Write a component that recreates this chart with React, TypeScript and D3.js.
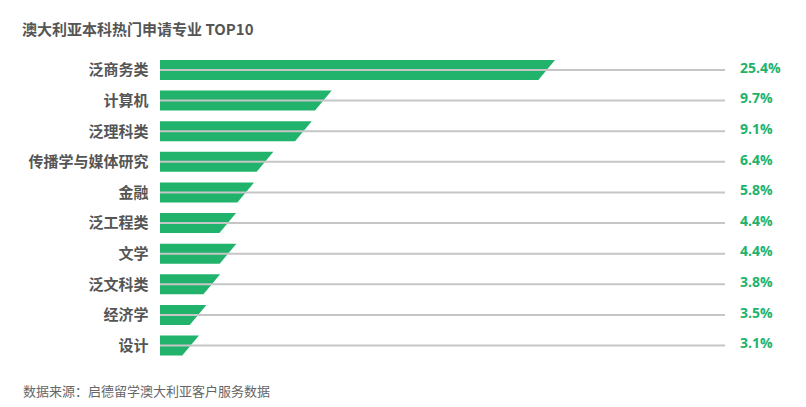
import React from "react";
import * as d3 from "d3";

const categories = ["泛商务类", "计算机", "泛理科类", "传播学与媒体研究", "金融", "泛工程类", "文学", "泛文科类", "经济学", "设计"];
const valueLabels = ["25.4%", "9.7%", "9.1%", "6.4%", "5.8%", "4.4%", "4.4%", "3.8%", "3.5%", "3.1%"];
// drawn bar lengths (the original bars are not strictly proportional)
const barValues = [25.4, 10.73, 9.42, 6.9, 5.63, 4.45, 4.47, 3.4, 2.5, 2.01];

const W = 806;
const H = 407;
const GREEN = "#21b36c";
const TEXT = "#555555";

export default function App() {
  const x = d3.scaleLinear().domain([0, 25.4]).range([160, 546.7]);
  const y = d3.scalePoint<string>().domain(categories).range([70, 345.5]);
  const barH = 20;
  const slant = 16.7;
  const lineEnd = 725;
  const font = "'Noto Sans CJK SC', 'Open Sans', sans-serif";

  return (
    <svg width={W} height={H} style={{ position: "absolute", left: 0, top: 0, background: "#fff" }} fontFamily={font}>
      <text x={22} y={35} fontSize={15} fontWeight="bold" fill={TEXT}>澳大利亚本科热门申请专业 TOP10</text>
      {categories.map((c, i) => {
        const cy = y(c)!;
        const x0 = x(0);
        const x1 = x(barValues[i]);
        const pts = [
          [x0, cy - barH / 2],
          [x1 + slant / 2, cy - barH / 2],
          [x1 - slant / 2, cy + barH / 2],
          [x0, cy + barH / 2],
        ];
        return (
          <g key={c}>
            <text x={148.5} y={cy} dy="0.36em" textAnchor="end" fontSize={15} fontWeight="bold" fill={TEXT}>{c}</text>
            <polygon points={pts.map((p) => p.join(",")).join(" ")} fill={GREEN} />
            <line x1={x0} x2={lineEnd} y1={cy} y2={cy} stroke="#c6c6c6" strokeWidth={2} />
            <text x={740} y={cy} dy="0.2em" fontSize={14} fontWeight="bold" fill={GREEN} fontFamily="'Open Sans', sans-serif">{valueLabels[i]}</text>
          </g>
        );
      })}
      <text x={23} y={396} fontSize={13} fill="#666666">数据来源：启德留学澳大利亚客户服务数据</text>
    </svg>
  );
}
